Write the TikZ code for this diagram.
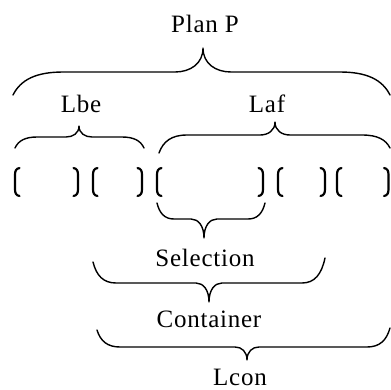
\documentclass[tikz,border=0pt]{standalone}
\usepackage{fontspec}
\setmainfont{Liberation Serif}[LetterSpace=3]

% curly brace through explicit points:
% #1,#2 first end; #3,#4 second end; #5,#6 tip; #7 level of the straight parts;
% #8 width of the end curls; #9 width of the tip curls
\newcommand{\curlyb}[9]{%
  \draw[bracestyle] (#1,#2)
    .. controls ({#1+0.15*#8},{#7+0.35*(#2-#7)}) and ({#1+0.45*#8},#7) .. ({#1+#8},#7)
    -- ({#5-#9},#7)
    .. controls ({#5-0.45*#9},#7) and (#5,{#7+0.35*(#6-#7)}) .. (#5,#6)
    .. controls (#5,{#7+0.35*(#6-#7)}) and ({#5+0.45*#9},#7) .. ({#5+#9},#7)
    -- ({#3-#8},#7)
    .. controls ({#3-0.45*#8},#7) and ({#3-0.15*#8},{#7+0.35*(#4-#7)}) .. (#3,#4);}

% square-ish brackets of the element row
\newcommand{\openbr}[1]{%
  \draw[bracketstyle] ({#1+4.5},168) .. controls ({#1+1},168.5) and (#1,171) .. (#1,175)
    -- (#1,189) .. controls (#1,193) and ({#1+1},195.5) .. ({#1+4.5},196);}
\newcommand{\closebr}[1]{%
  \draw[bracketstyle] ({#1-4.5},168) .. controls ({#1-1},168.5) and (#1,171) .. (#1,175)
    -- (#1,189) .. controls (#1,193) and ({#1-1},195.5) .. ({#1-4.5},196);}

\begin{document}
\begin{tikzpicture}[x=1pt,y=-1pt,
  bracestyle/.style={line width=1.4pt,line cap=round,line join=round},
  bracketstyle/.style={line width=2.2pt,line cap=round},
  lbl/.style={anchor=base,inner sep=0pt,font=\fontsize{25}{30}\selectfont}]
\useasboundingbox (0,0) rectangle (391,389);

% labels
\node[lbl] (plan) at (205,32) {Plan P};
\node[lbl] (lbe) at (81,112) {Lbe};
\node[lbl] (laf) at (267,112) {Laf};
\node[lbl] (sel) at (205,266) {Selection};
\node[lbl] (cont) at (209,327) {Container};
\node[lbl] (lcon) at (240,385) {Lcon};

% braces
\curlyb{13}{95}{390}{95}{203}{48}{72}{50}{28}
\curlyb{15}{148}{144}{148}{79}{126}{137}{22}{13}
\curlyb{159}{153}{390}{148}{275}{122}{135}{28}{15}
\curlyb{157}{203}{265}{203}{204}{238}{219}{17}{13}
\curlyb{93}{262}{325}{258}{209}{302}{283}{23}{13}
\curlyb{97}{330}{390}{328}{247}{360}{347}{23}{12}

% element row
\openbr{15}  \closebr{78}
\openbr{93}  \closebr{142}
\openbr{157} \closebr{263}
\openbr{278} \closebr{325}
\openbr{337} \closebr{388.5}
\end{tikzpicture}
\end{document}
